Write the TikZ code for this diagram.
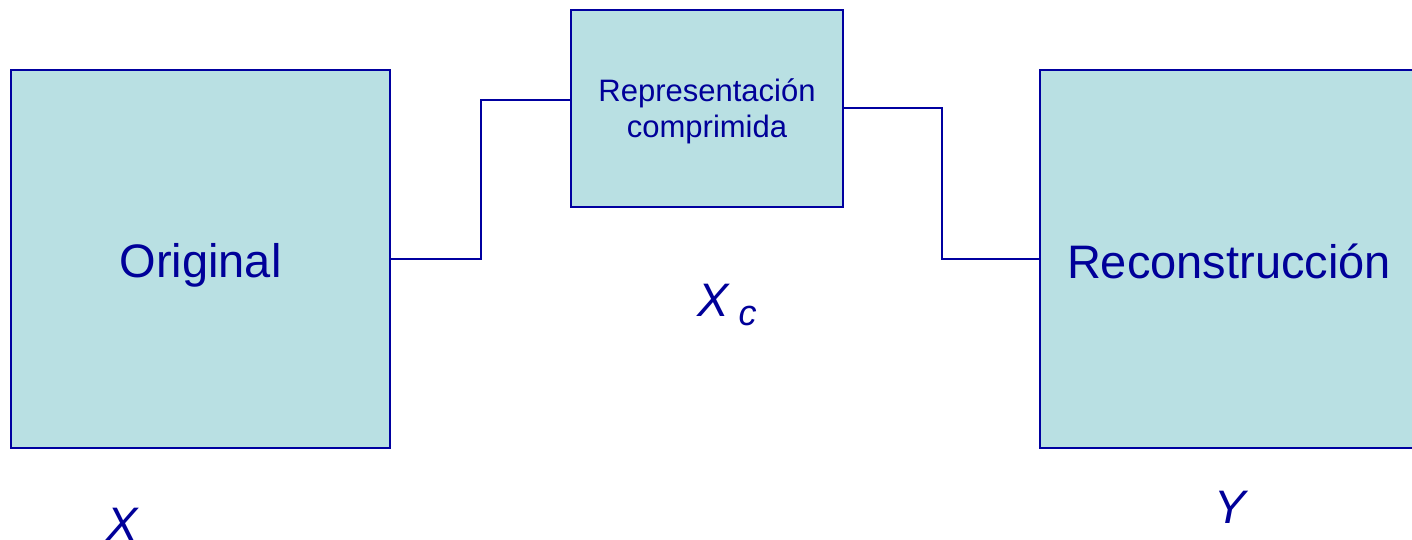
\documentclass[tikz,border=0pt]{standalone}
\usepackage{fontspec}
\setmainfont{Liberation Sans}
\definecolor{boxfill}{HTML}{B9E0E3}
\definecolor{navy}{HTML}{0000A0}
\definecolor{txt}{HTML}{000099}
\begin{document}
\begin{tikzpicture}[x=1pt,y=-1pt,
  box/.style={draw=navy, fill=boxfill, line width=2pt, inner sep=0pt},
  big/.style={text=txt, inner sep=0pt, anchor=base, font=\fontsize{47}{56}\selectfont},
  small/.style={text=txt, inner sep=0pt, anchor=base, font=\fontsize{31}{38}\selectfont},
  conn/.style={draw=navy, line width=2pt},
  lbl/.style={text=txt, inner sep=0pt, font=\fontsize{47}{56}\selectfont\itshape}]
\useasboundingbox (0,0) rectangle (1412,540);
\clip (0,0) rectangle (1412,540);
\node[box, minimum width=379pt, minimum height=378pt] (orig) at (200.5,259) {};
\node[box, minimum width=272pt, minimum height=197pt] (mid) at (707,108.5) {};
\node[box, minimum width=378pt, minimum height=378pt] (recon) at (1229,259) {};
\node[big] (origtext) at (200.5,277) {Original};
\node[small] (midtext1) at (707,102) {Representación};
\node[small] (midtext2) at (707,138) {comprimida};
\node[big] (recontext) at (1229,278) {Reconstrucción};
\coordinate (c1) at (481,100);
\coordinate (c2) at (942,259);
\draw[conn] (orig.east) -| (c1) -- (c1 -| mid.west);
\draw[conn] (mid.east) -| (c2) -- (recon.west);
\node[lbl] (xc) at (727,305) {X\hspace{10pt}\raisebox{-9pt}{\fontsize{36}{42}\selectfont c}};
\node[lbl] (x) at (122,524) {X};
\node[lbl] (y) at (1230,507) {Y};
\end{tikzpicture}
\end{document}
